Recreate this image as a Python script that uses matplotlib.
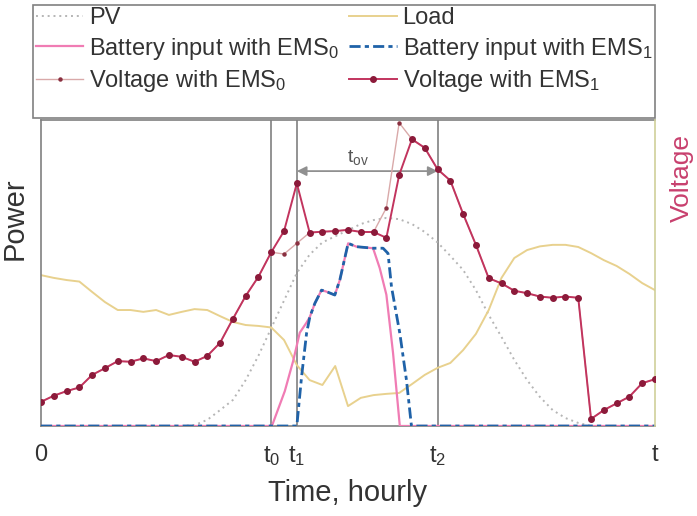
import matplotlib
matplotlib.use("Agg")
import matplotlib.pyplot as plt
from matplotlib.patches import Rectangle

plt.rcParams['font.family'] = ['Liberation Sans', 'DejaVu Sans']
plt.rcParams['mathtext.fontset'] = 'custom'
plt.rcParams['mathtext.rm'] = 'Liberation Sans'
plt.rcParams['mathtext.it'] = 'Liberation Sans'
plt.rcParams['mathtext.bf'] = 'Liberation Sans:bold'

# ---- data (half-hour steps, normalised 0-100) ----
steps = list(range(49))
pv = [0, 0, 0, 0, 0, 0, 0, 0, 0, 0, 0, 0, 0.3, 2, 5.2, 8.5, 15, 23, 32, 41,
      50, 56, 60, 62, 64, 66, 67.3, 68, 67.6, 66, 63.4, 60, 55.6, 51, 44.4,
      36.3, 29.1, 21.6, 15, 9.5, 5.2, 2.6, 1, 0, 0, 0, 0, 0, 0]
load = [49.3, 48.4, 47.7, 47.2, 43.8, 40.5, 37.9, 37.9, 37.3, 37.9, 36.3,
        37.3, 38.2, 37.9, 35.9, 34.0, 33.0, 32.7, 32.2, 28.1, 19.9, 15.0,
        13.4, 19.6, 6.5, 9.2, 10.1, 10.5, 10.8, 13.7, 16.7, 19.0, 20.6, 24.8,
        30.1, 37.9, 48.4, 54.9, 57.5, 58.7, 59.2, 59.2, 58.5, 56.5, 54.2,
        52.3, 49.7, 46.7, 44.4]
volt_ems1 = [7.9, 9.9, 11.4, 12.6, 16.7, 18.9, 21.2, 21.0, 22.1, 21.2, 23.2,
             22.6, 21.0, 22.9, 27.2, 35.0, 42.5, 48.8, 56.8, 63.7, 79.3, 63.2,
             63.5, 63.7, 64.1, 63.4, 63.4, 61.5, 82.0, 93.7, 90.9, 83.9, 80.2,
             69.3, 59.2, 48.3, 46.6, 44.2, 43.4, 42.3, 41.9, 42.3, 41.9, 2.3,
             5.2, 7.4, 9.6, 14.0, 15.3]
volt_ems0 = [7.9, 9.9, 11.4, 12.6, 16.7, 18.9, 21.2, 21.0, 22.1, 21.2, 23.2,
             22.6, 21.0, 22.9, 27.2, 35.0, 42.5, 48.8, 56.8, 56.2, 59.7, 63.2,
             63.5, 63.7, 64.1, 63.4, 63.4, 71.3, 99.1, 93.7, 90.9, 83.9, 80.2,
             69.3, 59.2, 48.3, 46.6, 44.2, 43.4, 42.3, 41.9, 42.3, 41.9, 2.3,
             5.2, 7.4, 9.6, 14.0, 15.3]
bat0_time = [0, 18.05, 19.06, 19.71, 20.23, 20.76, 21.02, 21.41, 21.93, 22.32,
             22.97, 23.36, 24.01, 24.66, 25.96, 26.48, 27.0, 27.52, 28.05, 48]
bat0 = [0, 0, 11.4, 21.2, 30.5, 33.8, 35.7, 40.1, 44.4, 43.9, 42.8, 47.7,
        59.7, 58.6, 58.1, 51.6, 42.9, 23.9, 0, 0]
bat1_time = [0, 20.0, 20.37, 20.76, 21.02, 21.41, 21.93, 22.32, 22.97, 23.36,
             24.01, 24.66, 25.96, 26.74, 27.13, 27.40, 28.05, 28.57, 28.96, 48]
bat1 = [0, 0, 16.1, 30.3, 35.7, 40.1, 44.4, 43.9, 42.8, 47.7, 59.7, 58.6,
        58.1, 58.1, 56.4, 45.5, 30.3, 15.0, 0, 0]
mark_times = [18, 20, 31]
tick_pos = [0, 18, 20, 31, 48]
tick_labels = ['0', r'$\mathregular{t_0}$', r'$\mathregular{t_1}$',
               r'$\mathregular{t_2}$', r'$\mathregular{t}$']
overvolt_level = 83.3

# ---- figure ----
fig = plt.figure(figsize=(6.97, 5.16), dpi=100)
ax = fig.add_axes([41/697, 1-426/516, 614/697, 306/516])
ax.set_xlim(0, 48)
ax.set_ylim(0, 100)

for t in mark_times:
    ax.axvline(t, color='#8a8a8a', lw=1.3, zorder=1)

l_pv, = ax.plot(steps, pv, color='#b5b5b5', lw=1.4, ls=(0, (1, 2)), zorder=2,
                label='PV')
l_load, = ax.plot(steps, load, color='#e8d18e', lw=1.4, zorder=2, label='Load')
l_b0, = ax.plot(bat0_time, bat0, color='#f07cb4', lw=1.6, zorder=3,
                label='Battery input with EMS$_0$')
l_b1, = ax.plot(bat1_time, bat1, color='#1f62a8', lw=2.0,
                ls=(0, (4, 1.5, 1.5, 1.5)), zorder=4,
                label='Battery input with EMS$_1$')

ax.annotate('', xy=(20, overvolt_level), xytext=(31, overvolt_level),
            arrowprops=dict(arrowstyle='<|-|>', color='#909090', lw=1.3,
                            mutation_scale=14, shrinkA=0, shrinkB=0))
ax.text(24.8, overvolt_level + 1.2, r'$\mathregular{t_{ov}}$', ha='center',
        va='bottom', fontsize=14, color='#555555')

ax.set_xticks(tick_pos, tick_labels)
ax.set_yticks([])
ax.tick_params(axis='x', length=0, pad=13, labelsize=17, labelcolor='#333333')
for s in ['left', 'bottom', 'top']:
    ax.spines[s].set_color('#808080')
    ax.spines[s].set_linewidth(1.2)
ax.spines['right'].set_visible(False)

ax2 = ax.twinx()
ax2.set_ylim(0, 100)
ax2.set_yticks([])
for s in ['left', 'bottom', 'top']:
    ax2.spines[s].set_visible(False)
ax2.spines['right'].set_color('#cfcf9a')
ax2.spines['right'].set_linewidth(1.2)
l_v0, = ax2.plot(steps, volt_ems0, color='#d9a9a9', lw=1.0, marker='o',
                 ms=2.2, mfc='#8a3040', mec='#8a3040', zorder=5,
                 label='Voltage with EMS$_0$')
l_v1, = ax2.plot(steps, volt_ems1, color='#c2345e', lw=1.4, marker='o',
                 ms=4, mfc='#8c1a3a', mec='#8c1a3a', zorder=6,
                 label='Voltage with EMS$_1$')

fig.text(348/697, 1-493/516, 'Time, hourly', ha='center', va='center',
         fontsize=21, color='#333333')
fig.text(15/697, 1-219/516, 'Power', ha='center', va='center', rotation=90,
         fontsize=21, color='#333333')
fig.text(682/697, 1-178/516, 'Voltage', ha='center', va='center', rotation=90,
         fontsize=19, color='#c8406e')

# legend box
rect = Rectangle((33/697, 1-118/516), 622/697, 113/516, transform=fig.transFigure,
                 facecolor='white', edgecolor='#808080', lw=1.2, zorder=10)
fig.patches.append(rect)
handles = [l_pv, l_b0, l_v0, l_load, l_b1, l_v1]
leg = fig.legend(handles, [h.get_label() for h in handles],
                 ncol=2, loc='upper left', bbox_to_anchor=(36/697, 1-7/516),
                 frameon=False, fontsize=17, handlelength=2.0,
                 handletextpad=0.25, columnspacing=0.45, labelspacing=0.28,
                 borderpad=0, borderaxespad=0)
leg.set_zorder(11)
for txt in leg.get_texts():
    txt.set_color('#333333')

fig.savefig('out.png', dpi=100)
